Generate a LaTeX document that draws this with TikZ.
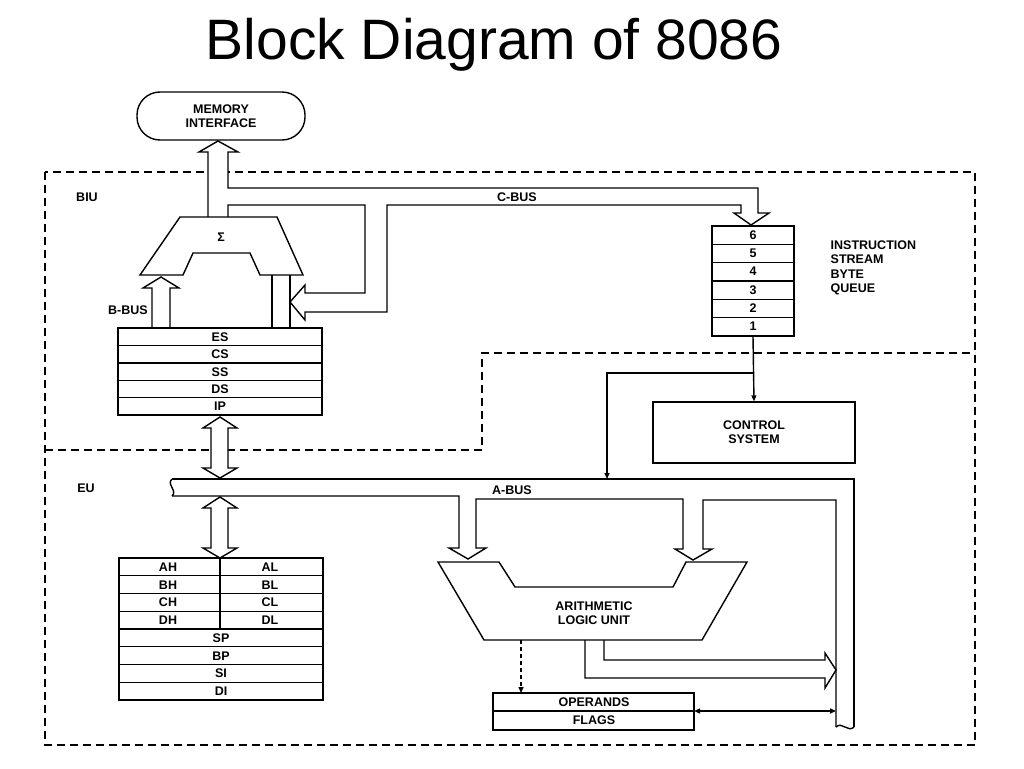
\documentclass[tikz,border=0pt]{standalone}
\usepackage{fontspec}
\setmainfont{Liberation Sans}
\usetikzlibrary{arrows.meta}
\begin{document}
\begin{tikzpicture}[x=1pt,y=-1pt,line width=1.4pt,
  lbl/.style={font=\fontsize{12.5}{14}\bfseries\selectfont,inner sep=0pt},
  dsh/.style={line width=1.3pt,dash pattern=on 8pt off 5pt},
  fat/.style={fill=white,line join=miter},
  tip/.style={-{Triangle[length=6pt,width=5pt]}}]
\useasboundingbox (0,0) rectangle (1024,768);
\node[font=\fontsize{57}{62}\selectfont] (title) at (494,45) {Block Diagram of 8086};
% dashed unit borders
\draw[dsh] (45,172) rectangle (975,745);
\draw[dsh] (45,450) -- (482,450) -- (482,353) -- (975,353);
\node[lbl] (biu) at (87,197) {BIU};
\node[lbl] (eu) at (86,488) {EU};
% memory interface
\node[draw,rounded corners=23pt,minimum width=168pt,minimum height=48pt,align=center,lbl] (mem) at (221,116) {MEMORY\\INTERFACE};
% memory arrow + C-bus
\draw[fat] (208,217) -- (208,152) -- (199,152) -- (218,141) -- (238,152) -- (228,152) -- (228,188) -- (758,188) -- (758,213) -- (769,213) -- (751,225) -- (734,213) -- (741,213) -- (741,205) -- (387,205) -- (387,312) -- (305,312) -- (305,320) -- (290,302) -- (305,285) -- (305,293) -- (365,293) -- (365,205) -- (228,205) -- (228,217);
\node[lbl] (cbus) at (517,197) {C-BUS};
% sigma adder
\draw[fill=white] (180,217) -- (277,217) -- (303,275) -- (260,275) -- (250,253) -- (193,253) -- (183,275) -- (140,275) -- cycle;
\node[lbl] (sig) at (221,237) {Σ};
% right shaft into adder
\draw (272,275) -- (272,328) (290,275) -- (290,328);
% B-bus
\draw[fat] (152,328) -- (152,288) -- (143,288) -- (161,277) -- (179,288) -- (170,288) -- (170,328);
\node[lbl] (bbus) at (128,310) {B-BUS};
% segment registers
\node[draw,minimum width=204pt,minimum height=87pt,inner sep=0pt] (seg) at (220,371.5) {};
\foreach \i/\t in {0/ES,1/CS,2/SS,3/DS,4/IP}{
  \node[lbl] (s\i) at (220,337+17.4*\i) {\t};}
\foreach \i in {1,...,4}{\draw (118,328+17.4*\i) -- (322,328+17.4*\i);}
% BIU-EU arrow
\draw[fat] (211,428) -- (203,428) -- (220,417) -- (237,428) -- (228,428) -- (228,468) -- (237,468) -- (220,478) -- (203,468) -- (211,468) -- cycle;
% A-bus / internal bus
\draw (172,479) -- (854,479) -- (854,727);
\draw (172,496) -- (459,496) -- (459,548) -- (449,548) -- (468,559) -- (486,548) -- (476,548) -- (476,499) -- (683,499) -- (683,549) -- (675,549) -- (693,560) -- (712,549) -- (703,549) -- (703,500) -- (836,500) -- (836,727);
\draw (172,479) .. controls (166,484) and (178,491) .. (172,496);
\draw (836,727) .. controls (842,721) and (848,733) .. (854,727);
\node[lbl] (abus) at (512,490) {A-BUS};
% EU register arrow
\draw[fat] (220,497) -- (237,508) -- (228,508) -- (228,548) -- (237,548) -- (220,558) -- (203,548) -- (211,548) -- (211,508) -- (203,508) -- cycle;
% general registers
\node[draw,minimum width=204pt,minimum height=142pt,inner sep=0pt] (gpr) at (221,629) {};
\foreach \i in {1,...,7}{\draw (119,558+17.75*\i) -- (323,558+17.75*\i);}
\draw (220,558) -- (220,629);
\foreach \i/\a/\b in {0/AH/AL,1/BH/BL,2/CH/CL,3/DH/DL}{
  \node[lbl] (h\i) at (168,567+17.75*\i) {\a};
  \node[lbl] (l\i) at (270,567+17.75*\i) {\b};}
\foreach \i/\t in {4/SP,5/BP,6/SI,7/DI}{
  \node[lbl] (p\i) at (221,567+17.75*\i) {\t};}
% ALU
\draw (438,562) -- (499,562) -- (515,587) -- (673,587) -- (686,562) -- (747,562) -- (702,640) -- (484,640) -- cycle;
\node[lbl,align=center] (alu) at (594,613) {ARITHMETIC\\LOGIC UNIT};
\draw[line join=miter] (604,640) -- (604,660) -- (825,660) -- (825,653) -- (836,670) -- (825,688) -- (825,678) -- (585,678) -- (585,640);
% operands / flags
\node[draw,minimum width=201pt,minimum height=37pt,inner sep=0pt] (ops) at (593.5,711.5) {};
\draw (493,711) -- (694,711);
\node[lbl] (opt) at (594,702) {OPERANDS};
\node[lbl] (flg) at (594,720) {FLAGS};
\draw[tip,dash pattern=on 4pt off 3pt] (521,640) -- (521,693);
\coordinate (fr) at (836,711);
\draw[{Triangle[length=6pt,width=5pt]}-{Triangle[length=6pt,width=5pt]}] (694,711) -- (fr);
% queue
\node[draw,minimum width=82pt,minimum height=110pt,inner sep=0pt] (q) at (753,281) {};
\foreach \i in {1,...,5}{\draw (712,226+18.33*\i) -- (794,226+18.33*\i);}
\foreach \i/\t in {0/6,1/5,2/4,3/3,4/2,5/1}{
  \node[lbl] (q\i) at (753,235+18.33*\i) {\t};}
\node[lbl,align=left,anchor=north west,font=\fontsize{12.5}{14.5}\bfseries\selectfont] (ql) at (830,240) {INSTRUCTION\\STREAM\\BYTE\\QUEUE};
% control system
\node[draw,minimum width=202pt,minimum height=61pt,lbl,align=center] (ctl) at (754,432.5) {CONTROL\\SYSTEM};
\draw[tip] (q.south) -- (ctl.north);
\coordinate (br) at (753,373);
\draw[tip] (br) -- (607,373) -- (607,479);
\end{tikzpicture}
\end{document}
